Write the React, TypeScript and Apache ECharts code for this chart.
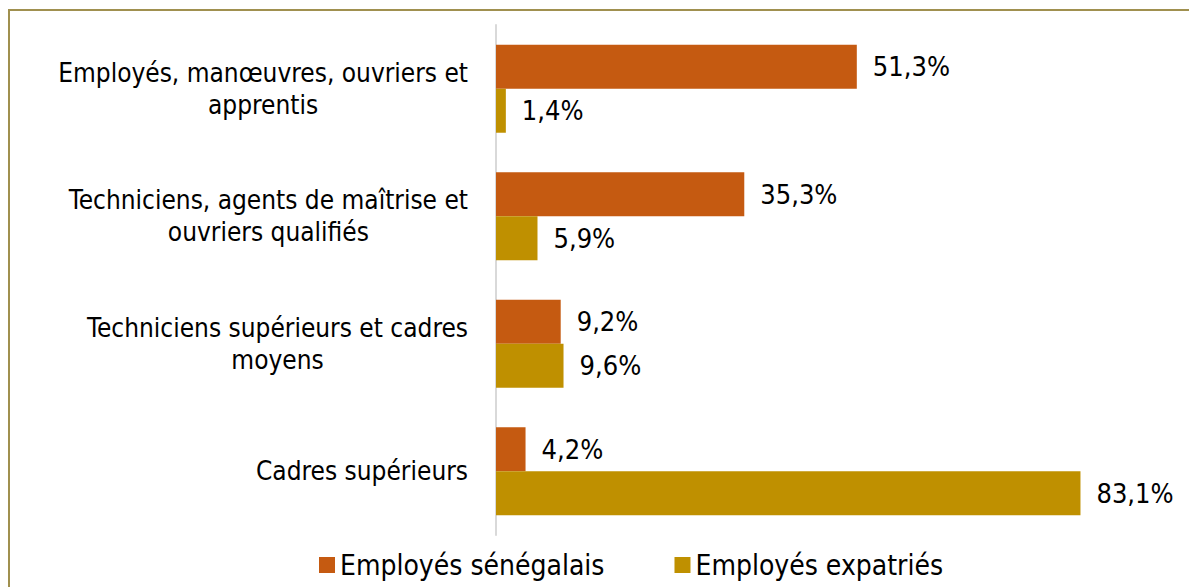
import React, { useEffect, useRef } from "react";
import * as echarts from "echarts";

const categories = [
  "Employés, manœuvres, ouvriers et\napprentis",
  "Techniciens, agents de maîtrise et\nouvriers qualifiés",
  "Techniciens supérieurs et cadres\nmoyens",
  "Cadres supérieurs",
];
const seriesNames = ["Employés sénégalais", "Employés expatriés"];
const senegalais = [51.3, 35.3, 9.2, 4.2];
const expatries = [1.4, 5.9, 9.6, 83.1];

const FONT = "'DejaVu Sans Condensed', 'DejaVu Sans', sans-serif";

const fmt = (p: any) => p.value.toFixed(1).replace(".", ",") + "%";

export default function App() {
  const ref = useRef<HTMLDivElement>(null);
  useEffect(() => {
    if (!ref.current) return;
    const chart = echarts.init(ref.current, undefined, { renderer: "svg" });
    const label = {
      show: true,
      position: "right" as const,
      distance: 16,
      formatter: fmt,
      fontFamily: FONT,
      fontSize: 27,
      color: "#000",
    };
    chart.setOption({
      animation: false,
      backgroundColor: "#fff",
      textStyle: { fontFamily: FONT },
      graphic: [
        {
          type: "rect",
          shape: { x: 9, y: 10, width: 1200, height: 600 },
          style: { fill: "none", stroke: "#a0904f", lineWidth: 2 },
          silent: true,
        },
      ],
      grid: { left: 496, top: 25, width: 633, height: 510, containLabel: false },
      xAxis: {
        type: "value",
        min: 0,
        max: 90,
        show: false,
        splitLine: { show: false },
      },
      yAxis: {
        type: "category",
        inverse: true,
        data: categories,
        axisTick: { show: false },
        axisLine: { show: true, lineStyle: { color: "#d9d9d9", width: 2 } },
        axisLabel: {
          margin: 28,
          formatter: (v: string) =>
            v
              .split("\n")
              .map((l) => "{c|" + l + "}")
              .join("\n"),
          rich: {
            c: {
              align: "center",
              fontFamily: FONT,
              fontSize: 26,
              lineHeight: 32,
              color: "#000",
            },
          },
        },
      },
      legend: {
        data: seriesNames,
        left: 314,
        top: 546,
        icon: "rect",
        itemWidth: 16,
        itemHeight: 16,
        itemGap: 70,
        textStyle: { fontFamily: FONT, fontSize: 28, color: "#000" },
      },
      series: [
        {
          name: seriesNames[0],
          type: "bar",
          data: senegalais,
          barGap: "0%",
          barCategoryGap: "31%",
          itemStyle: { color: "#C55A11" },
          label,
        },
        {
          name: seriesNames[1],
          type: "bar",
          data: expatries,
          barGap: "0%",
          barCategoryGap: "31%",
          itemStyle: { color: "#BF9000" },
          label,
        },
      ],
    });
    return () => chart.dispose();
  }, []);
  return (
    <div
      ref={ref}
      style={{ position: "absolute", left: 0, top: 0, width: 1189, height: 587 }}
    />
  );
}
